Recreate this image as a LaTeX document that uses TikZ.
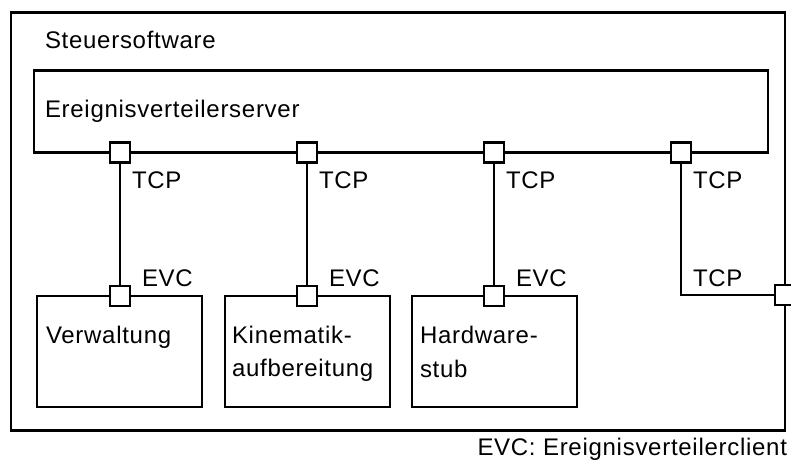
\documentclass[tikz,border=0pt]{standalone}
\usepackage{fontspec}
\setmainfont{Liberation Sans}[LetterSpace=3]
\begin{document}
\begin{tikzpicture}[x=1pt,y=-1pt,
  every node/.style={inner sep=0pt, outer sep=0pt},
  box/.style={draw, line width=2.8pt, fill=white},
  port/.style={draw, line width=2.8pt, fill=white, minimum size=20pt},
  wire/.style={line width=2.8pt},
  txt/.style={anchor=base west, font=\fontsize{24}{28}\selectfont},
  txtr/.style={anchor=base east, font=\fontsize{24}{28}\selectfont}]
\useasboundingbox (0,0) rectangle (791,461);

% Steuersoftware
\node[box, minimum width=774pt, minimum height=418pt] (sw) at (398,221.5) {};
\node[txt] (swlbl) at (45,48) {Steuersoftware};

% Ereignisverteilerserver
\node[box, minimum width=734pt, minimum height=82pt] (srv) at (401,111.5) {};
\node[txt] (srvlbl) at (45,117) {Ereignisverteilerserver};

% client components
\node[box, minimum width=165pt, minimum height=111pt] (verw) at (119.5,351.5) {};
\node[box, minimum width=165pt, minimum height=111pt] (kin) at (307.5,351.5) {};
\node[box, minimum width=165pt, minimum height=111pt] (hw) at (494.5,351.5) {};
\node[txt] (verwlbl) at (46,343) {Verwaltung};
\node[txt] (kinlbl1) at (232,343) {Kinematik-};
\node[txt] (kinlbl2) at (232,376) {aufbereitung};
\node[txt] (hwlbl1) at (420,343) {Hardware-};
\node[txt] (hwlbl2) at (420,377) {stub};

% server ports
\node[port] (s1) at (120,152.5) {};
\node[port] (s2) at (307,152.5) {};
\node[port] (s3) at (494,152.5) {};
\node[port] (s4) at (681,152.5) {};

% client ports
\node[port] (c1) at (120,296) {};
\node[port] (c2) at (307,296) {};
\node[port] (c3) at (494,296) {};
\node[port] (r) at (785,295) {};

% connections
\draw[wire] (s1.south) -- (c1.north);
\draw[wire] (s2.south) -- (c2.north);
\draw[wire] (s3.south) -- (c3.north);
\draw[wire] (s4.south) |- (r.west);

% protocol labels
\node[txt] (t1) at (132,188) {TCP};
\node[txt] (t2) at (319,188) {TCP};
\node[txt] (t3) at (506,188) {TCP};
\node[txt] (t4) at (693,188) {TCP};
\node[txt] (t5) at (693,286) {TCP};
\node[txt] (e1) at (142,286) {EVC};
\node[txt] (e2) at (329,286) {EVC};
\node[txt] (e3) at (516,286) {EVC};

% legend
\node[txtr] (legend) at (787,455) {EVC: Ereignisverteilerclient};
\end{tikzpicture}
\end{document}
